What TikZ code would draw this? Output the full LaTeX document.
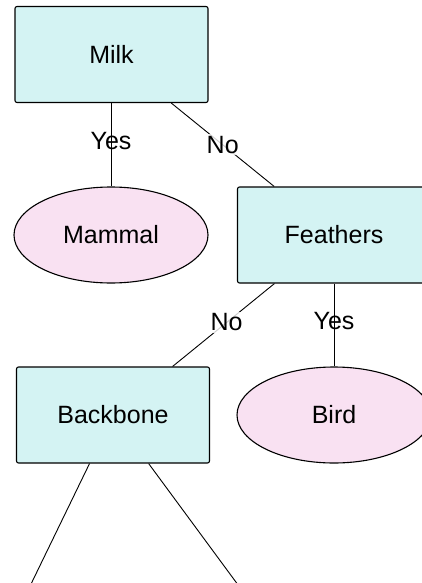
\documentclass[tikz,border=0pt]{standalone}
\usepackage{fontspec}
\setmainfont{Liberation Sans}
\usetikzlibrary{shapes.geometric}
\definecolor{boxfill}{RGB}{212,243,243}
\definecolor{leaffill}{RGB}{249,225,242}
\begin{document}
\begin{tikzpicture}[x=1pt,y=-1pt,
  nodefont/.style={font=\fontsize{25}{30}\selectfont},
  test/.style={draw, fill=boxfill, rounded corners=2pt, line width=1.1pt,
    minimum width=193pt, minimum height=96pt, inner sep=0pt, nodefont},
  leaf/.style={ellipse, draw, fill=leaffill, line width=1.1pt,
    minimum width=194pt, minimum height=96pt, inner sep=0pt, nodefont},
  edge/.style={line width=0.9pt},
  yeslbl/.style={pos=0.45, inner sep=1pt, nodefont},
  nolbl/.style={midway, inner sep=2pt, fill=white, fill opacity=0.8,
    text opacity=1, nodefont}
]
\useasboundingbox (0,0) rectangle (422,583);
\clip (0,0) rectangle (422,583);

% decision tree nodes
\node[test] (milk)     at (111.5,54.5) {Milk};
\node[leaf] (mammal)   at (111,235)    {Mammal};
\node[test] (feathers) at (334,235)    {Feathers};
\node[test] (backbone) at (113,415)    {Backbone};
\node[leaf] (bird)     at (334,415)    {Bird};
\coordinate (lchild) at (-1,650);
\coordinate (rchild) at (286,650);

% branches
\draw[edge] (milk.south -| mammal.north) -- (mammal.north) node[yeslbl] {Yes};
\draw[edge] (milk) -- (feathers) node[nolbl] {No};
\draw[edge] (feathers.south) -- (bird.north) node[yeslbl] {Yes};
\draw[edge] (feathers) -- (backbone) node[nolbl, pos=0.47] {No};
\draw[edge] (backbone) -- (lchild);
\draw[edge] (backbone) -- (rchild);
\end{tikzpicture}
\end{document}
